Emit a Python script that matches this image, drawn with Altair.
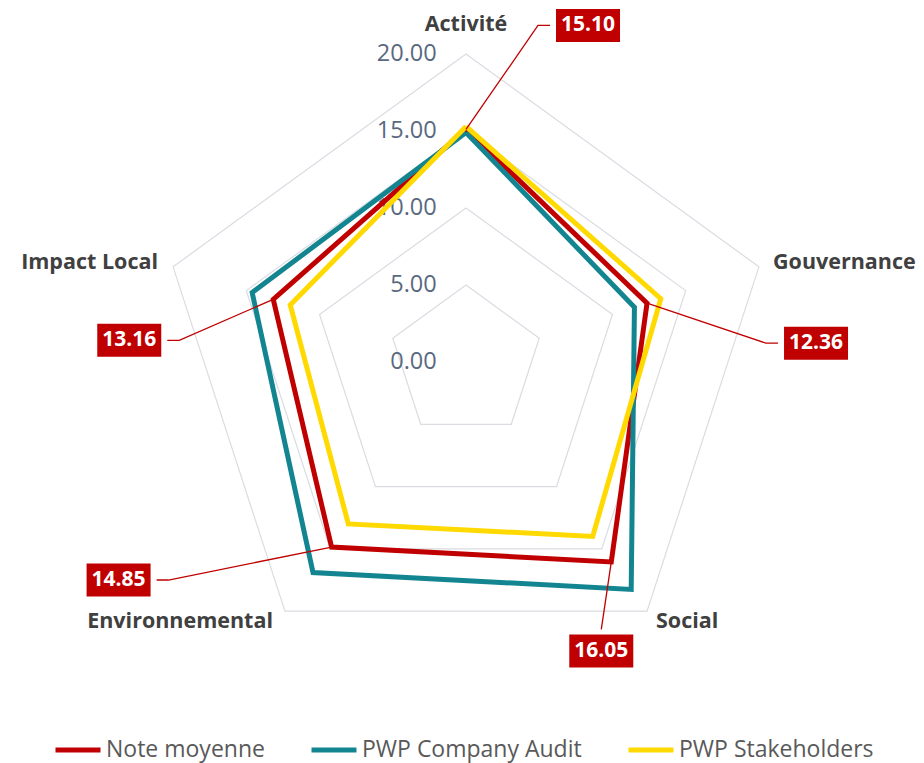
import altair as alt
import numpy as np
import pandas as pd

# ---------------- data ----------------
categories = ["Activité", "Gouvernance", "Social", "Environnemental", "Impact Local"]
series_names = ["Note moyenne", "PWP Company Audit", "PWP Stakeholders"]
note_moyenne = [15.10, 12.36, 16.05, 14.85, 13.16]
company_audit = [14.9, 11.5, 18.25, 16.9, 14.6]
stakeholders = [15.3, 13.3, 14.0, 13.0, 12.0]
tick_values = [0, 5, 10, 15, 20]
tick_labels = ["0.00", "5.00", "10.00", "15.00", "20.00"]
value_labels = ["15.10", "12.36", "16.05", "14.85", "13.16"]

# ---------------- layout ----------------
W, H = 908, 755
PX = 15.4                 # pixels per score unit
CX, CY = 458, 354         # centre of the radar inside the view (px)
xdom = [-CX / PX, (W - CX) / PX]
ydom = [-(H - CY) / PX, CY / PX]

colors = ["#C00000", "#138591", "#FFD900"]
angles = np.deg2rad(np.arange(len(categories)) * 72.0)

def polar(r, i):
    return r * np.sin(angles[i]), r * np.cos(angles[i])

# series polygons
rows = []
for s, vals in zip(series_names, [note_moyenne, company_audit, stakeholders]):
    for k in range(len(categories) + 1):
        i = k % len(categories)
        x, y = polar(vals[i], i)
        rows.append({"series": s, "order": k, "x": x, "y": y})
series_df = pd.DataFrame(rows)

# grid rings
grid_rows = []
for t in tick_values[1:]:
    for k in range(len(categories) + 1):
        i = k % len(categories)
        x, y = polar(t, i)
        grid_rows.append({"ring": t, "order": k, "x": x, "y": y})
grid_df = pd.DataFrame(grid_rows)

tick_df = pd.DataFrame({"label": tick_labels, "x": [-1.9] * len(tick_values), "y": tick_values})

# category label anchors (px offsets from centre) and alignment
cat_pos = {
    "Activité": (0, -337, "center"),
    "Gouvernance": (307, -99, "left"),
    "Social": (190, 260, "left"),
    "Environnemental": (-193, 260, "right"),
    "Impact Local": (-308, -99, "right"),
}
cat_df = pd.DataFrame([
    {"label": c, "x": cat_pos[c][0] / PX, "y": -cat_pos[c][1] / PX, "align": cat_pos[c][2]}
    for c in categories
])

# value label boxes: offsets of box centre from the data point (px), leader side
box_off = {
    "Activité": (122, -104, "left"),
    "Gouvernance": (169, 40, "left"),
    "Social": (-10, 89, "top"),
    "Environnemental": (-213, 33, "right"),
    "Impact Local": (-144, 41, "right"),
}
BW, BH = 64, 33
GAP, ELB = 6, 12
box_rows, lead_rows = [], []
for i, c in enumerate(categories):
    px, py = polar(note_moyenne[i], i)
    dx, dy, side = box_off[c]
    bx, by = px + dx / PX, py - dy / PX
    box_rows.append({"label": value_labels[i], "cx": bx, "cy": by,
                     "x1": bx - BW / 2 / PX, "x2": bx + BW / 2 / PX,
                     "y1": by - BH / 2 / PX, "y2": by + BH / 2 / PX})
    if side == "left":
        end = (bx - (BW / 2 + GAP) / PX, by)
        elb = (bx - (BW / 2 + GAP + ELB) / PX, by)
    elif side == "right":
        end = (bx + (BW / 2 + GAP) / PX, by)
        elb = (bx + (BW / 2 + GAP + ELB) / PX, by)
    else:
        end = (bx, by + (BH / 2 + 5) / PX)
        elb = end
    for k, (lx, ly) in enumerate([(px, py), elb, end]):
        lead_rows.append({"cat": c, "order": k, "x": lx, "y": ly})
box_df = pd.DataFrame(box_rows)
lead_df = pd.DataFrame(lead_rows)

xs = alt.Scale(domain=xdom, nice=False, zero=False)
ys = alt.Scale(domain=ydom, nice=False, zero=False)
X = lambda f="x": alt.X(f, type="quantitative", scale=xs, axis=None)
Y = lambda f="y": alt.Y(f, type="quantitative", scale=ys, axis=None)

grid = alt.Chart(grid_df).mark_line(color="#D9DCE1", strokeWidth=1.2).encode(
    x=X(), y=Y(), detail="ring:N", order="order:Q")

ticks = alt.Chart(tick_df).mark_text(
    align="right", baseline="middle", font="Open Sans", fontSize=23.5, color="#5A6980"
).encode(x=X(), y=Y(), text="label:N")

lines = alt.Chart(series_df).mark_line(strokeWidth=5, strokeJoin="miter").encode(
    x=X(), y=Y(), order="order:Q",
    color=alt.Color("series:N",
                    scale=alt.Scale(domain=series_names, range=colors),
                    sort=series_names,
                    legend=alt.Legend(
                        title=None, orient="none", direction="horizontal",
                        legendX=45, legendY=717, symbolType="stroke",
                        symbolSize=2025, symbolStrokeWidth=5,
                        labelFont="Open Sans", labelFontSize=23, labelColor="#595959",
                        labelOffset=3, columnPadding=36, labelLimit=400)),
    detail="series:N")

cat_layers = []
for a in ["left", "center", "right"]:
    sub = cat_df[cat_df["align"] == a]
    cat_layers.append(alt.Chart(sub).mark_text(
        align=a, baseline="middle", font="Open Sans", fontSize=21.5,
        fontWeight="bold", color="#404040"
    ).encode(x=X(), y=Y(), text="label:N"))

leaders = alt.Chart(lead_df).mark_line(color="#C00000", strokeWidth=1.3).encode(
    x=X(), y=Y(), detail="cat:N", order="order:Q")

boxes = alt.Chart(box_df).mark_rect(color="#C00000").encode(
    x=X("x1"), x2="x2", y=Y("y1"), y2="y2")

box_text = alt.Chart(box_df).mark_text(
    align="center", baseline="middle", font="Open Sans", fontSize=21,
    fontWeight="bold", color="white"
).encode(x=X("cx"), y=Y("cy"), text="label:N")

chart = alt.layer(grid, ticks, lines, leaders, boxes, box_text, *cat_layers).properties(
    width=W, height=H, autosize=alt.AutoSizeParams(type="none"), padding=0
).configure_view(stroke=None)

chart.save("out.html", embed_options={"renderer": "svg", "actions": False})
